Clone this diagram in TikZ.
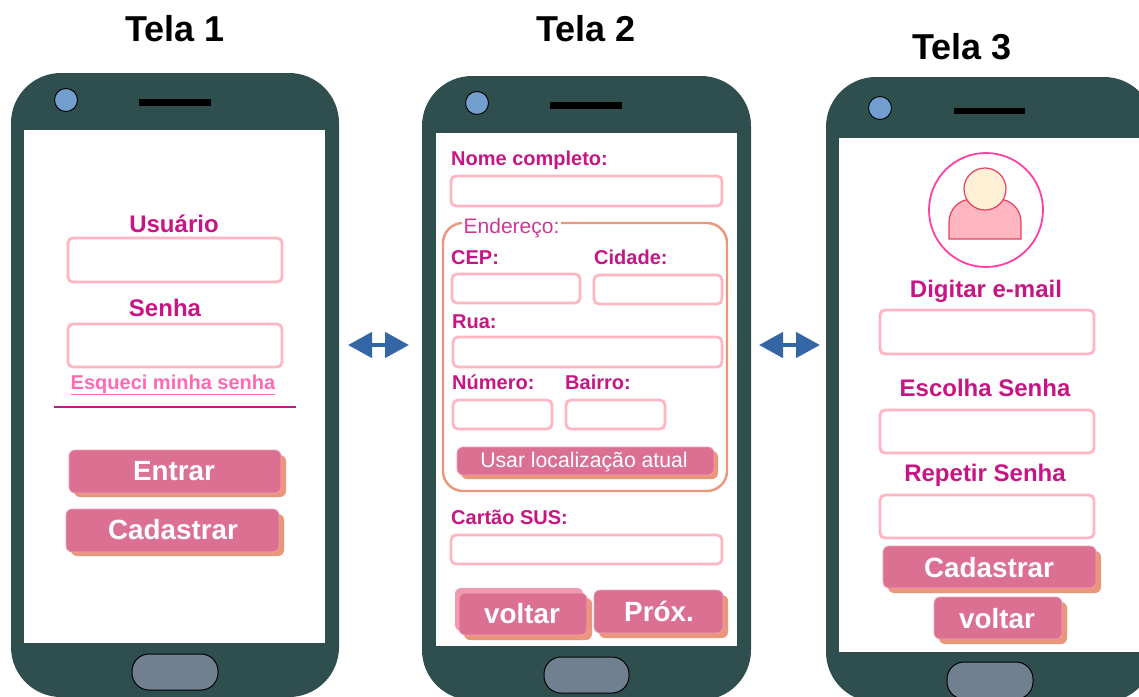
\documentclass[tikz,border=0pt]{standalone}
\usepackage{fontspec}
\setmainfont{Liberation Sans}
\usetikzlibrary{arrows.meta}
\definecolor{phonecol}{HTML}{2F4F4F}
\definecolor{camcol}{HTML}{729FCF}
\definecolor{homecol}{HTML}{708090}
\definecolor{fieldcol}{HTML}{FFB6C1}
\definecolor{labelcol}{HTML}{C71585}
\definecolor{linkcol}{HTML}{FF69B4}
\definecolor{btncol}{HTML}{DB7093}
\definecolor{shadowcol}{HTML}{E9967A}
\definecolor{arrowcol}{HTML}{3465A4}
\definecolor{headcol}{HTML}{FFEFD5}
\definecolor{bodyline}{HTML}{E8405F}
\definecolor{ringcol}{HTML}{FF3FA4}
\newcommand{\fsz}[1]{\fontsize{#1}{#1}\selectfont}
% \boxat[style]{name}{x1}{y1}{x2}{y2}{text}
\newcommand{\boxat}[7][field]{%
  \pgfmathsetmacro{\bw}{#5-#3}\pgfmathsetmacro{\bh}{#6-#4}%
  \pgfmathsetmacro{\bx}{(#3+#5)/2}\pgfmathsetmacro{\by}{(#4+#6)/2}%
  \node[#1,minimum width=\bw pt,minimum height=\bh pt] (#2) at (\bx,\by) {#7};}
\tikzset{
  phonebody/.style={fill=phonecol,draw=none,rounded corners=50pt,inner sep=0pt,outer sep=0pt},
  screen/.style={fill=white,draw=none,inner sep=0pt,outer sep=0pt},
  cam/.style={circle,fill=camcol,draw=black,line width=0.9pt,inner sep=0pt,minimum size=23pt},
  speaker/.style={fill=black,draw=none,inner sep=0pt},
  homebtn/.style={fill=homecol,draw=black,line width=1pt,rounded corners=17pt,inner sep=0pt},
  field/.style={draw=fieldcol,line width=2.8pt,fill=white,rounded corners=5pt,inner sep=0pt},
  btnback/.style={fill=shadowcol,draw=none,rounded corners=6pt,inner sep=0pt},
  btnbackpink/.style={fill=fieldcol!60!btncol,draw=none,rounded corners=6pt,inner sep=0pt},
  btn/.style={fill=btncol,draw=fieldcol!70!btncol,line width=0.7pt,rounded corners=6pt,inner sep=0pt},
  title/.style={font=\bfseries\fsz{36},text=black,anchor=base,inner sep=0pt},
  lab/.style={font=\bfseries\fsz{24},text=labelcol,anchor=base,inner sep=0pt},
  slab/.style={font=\bfseries\fsz{20},text=labelcol,anchor=base west,inner sep=0pt},
  btntext/.style={font=\bfseries\fsz{27.8},text=white,anchor=base,inner sep=0pt},
  group/.style={draw=shadowcol,line width=2.4pt,rounded corners=20pt,fill=white,inner sep=0pt},
  dblarrow/.style={draw=arrowcol,line width=4.5pt,{Triangle[length=24pt,width=25pt]}-{Triangle[length=24pt,width=25pt]}},
}
\begin{document}
\begin{tikzpicture}[x=1pt,y=-1pt]
\useasboundingbox (0,0) rectangle (1139,696);
\clip (0,0) rectangle (1139,696);
% titles
\node[title] (t1) at (175,41) {Tela 1};
\node[title] (t2) at (586,41) {Tela 2};
\node[title] (t3) at (962,59) {Tela 3};
% phone 1
\boxat[phonebody]{p1}{11}{73}{339}{697}{}
\boxat[screen]{s1}{24}{130}{325}{643}{}
\node[cam] (c1) at (66,100) {};
\boxat[speaker]{sp1}{139}{99}{211}{106}{}
\boxat[homebtn]{h1}{132}{654}{218}{690}{}
\node[lab] (usuario) at (174,232) {Usuário};
\boxat{f1a}{68}{238}{282}{282}{}
\node[lab] (senha) at (165,316) {Senha};
\boxat{f1b}{68}{324}{282}{367}{}
\node[font=\bfseries\fsz{20},text=linkcol,anchor=base,inner sep=0pt] (link) at (173,389) {\underline{Esqueci minha senha}};
\coordinate (ruleL) at (54,407);
\coordinate (ruleR) at (296,407);
\draw[labelcol,line width=2.8pt] (ruleL) -- (ruleR);
\boxat[btnback]{b1as}{74}{455}{286}{497}{}
\boxat[btn]{b1a}{69}{450}{281}{493}{}
\node[btntext] (b1at) at (174,480) {Entrar};
\boxat[btnback]{b1bs}{71}{514}{284}{556}{}
\boxat[btn]{b1b}{66}{509}{279}{552}{}
\node[btntext] (b1bt) at (173,539) {Cadastrar};
% phone 2
\boxat[phonebody]{p2}{422}{76}{751}{700}{}
\boxat[screen]{s2}{436}{133}{737}{646}{}
\node[cam] (c2) at (477,103) {};
\boxat[speaker]{sp2}{550}{102}{622}{109}{}
\boxat[homebtn]{h2}{544}{657}{629}{693}{}
\node[slab] (nome) at (451,165) {Nome completo:};
\boxat{f2a}{451}{176}{722}{206}{}
\boxat[group]{g2}{443}{223}{727}{491}{}
\node[fill=white,font=\fsz{21},text=labelcol!85!white,anchor=base west,inner sep=1.5pt] (ender) at (462,233) {Endereço:};
\node[slab] (cep) at (451,264) {CEP:};
\node[slab] (cidade) at (594,264) {Cidade:};
\boxat{f2b}{452}{274}{580}{303}{}
\boxat{f2c}{594}{275}{722}{304}{}
\node[slab] (rua) at (452,328) {Rua:};
\boxat{f2d}{453}{337}{722}{367}{}
\node[slab] (numero) at (452,389) {Número:};
\node[slab] (bairro) at (565,389) {Bairro:};
\boxat{f2e}{453}{400}{552}{429}{}
\boxat{f2f}{566}{400}{665}{429}{}
\boxat[btnback]{b2as}{461}{451}{718}{479}{}
\boxat[btn]{b2a}{457}{447}{714}{475}{}
\node[font=\fsz{21.2},text=white,anchor=base,inner sep=0pt] (b2at) at (584,467) {Usar localização atual};
\node[slab] (sus) at (451,524) {Cartão SUS:};
\boxat{f2g}{451}{535}{722}{564}{}
\boxat[btnbackpink]{b2bp}{455}{588}{583}{631}{}
\boxat[btnback]{b2bs}{464}{598}{592}{640}{}
\boxat[btn]{b2b}{459}{593}{587}{635}{}
\node[btntext] (b2bt) at (522,623) {voltar};
\boxat[btnback]{b2cs}{599}{595}{728}{638}{}
\boxat[btn]{b2c}{594}{590}{723}{633}{}
\node[btntext] (b2ct) at (659,621) {Próx.};
% phone 3
\boxat[phonebody]{p3}{826}{77}{1154}{702}{}
\boxat[screen]{s3}{839}{138}{1145}{652}{}
\node[cam] (c3) at (880,108) {};
\boxat[speaker]{sp3}{954}{108}{1025}{114}{}
\boxat[homebtn]{h3}{947}{662}{1033}{699}{}
\node[circle,draw=ringcol,line width=1.8pt,fill=white,minimum size=114pt,inner sep=0pt] (ring) at (986,210) {};
\draw[fill=fieldcol,draw=bodyline,line width=1.2pt] (949,239) -- (949,222) arc[start angle=180,end angle=90,radius=23pt] -- (998,199) arc[start angle=90,end angle=0,radius=23pt] -- (1021,239) -- cycle;
\node[circle,fill=headcol,draw=bodyline,line width=1.2pt,minimum size=42pt,inner sep=0pt] (head) at (985,189) {};
\node[lab] (digitar) at (986,297) {Digitar e-mail};
\boxat{f3a}{880}{310}{1094}{354}{}
\node[lab] (escolha) at (985,396) {Escolha Senha};
\boxat{f3b}{880}{410}{1094}{453}{}
\node[lab] (repetir) at (985,481) {Repetir Senha};
\boxat{f3c}{880}{495}{1094}{538}{}
\boxat[btnback]{b3as}{888}{551}{1101}{593}{}
\boxat[btn]{b3a}{883}{546}{1096}{588}{}
\node[btntext] (b3at) at (989,577) {Cadastrar};
\boxat[btnback]{b3bs}{939}{602}{1067}{644}{}
\boxat[btn]{b3b}{934}{597}{1062}{639}{}
\node[btntext] (b3bt) at (997,628) {voltar};
% arrows
\coordinate (a1L) at (348,345);
\coordinate (a1R) at (409,345);
\coordinate (a2L) at (759,345);
\coordinate (a2R) at (820,345);
\draw[dblarrow] (a1L) -- (a1R);
\draw[dblarrow] (a2L) -- (a2R);
\end{tikzpicture}
\end{document}
